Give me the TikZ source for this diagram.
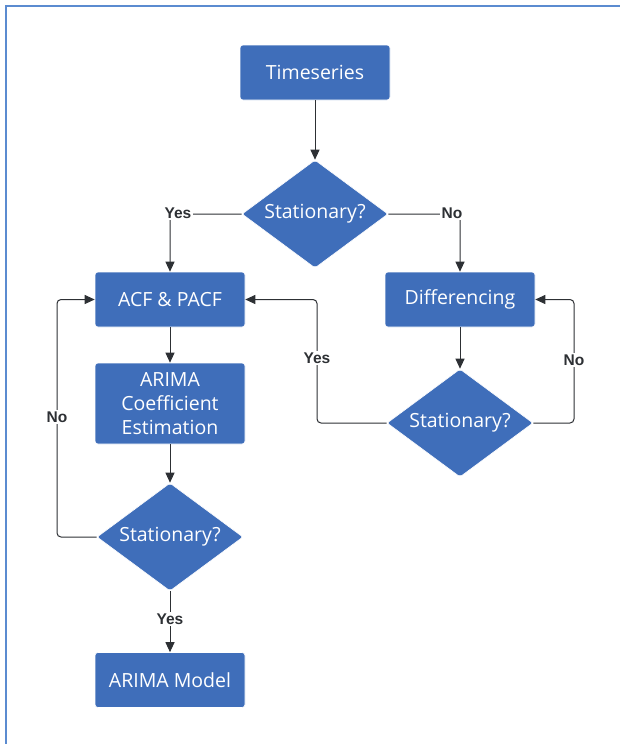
\documentclass[tikz,border=0pt]{standalone}
\usepackage{fontspec}
\setmainfont{Open Sans}
\newfontfamily\labfont{Liberation Sans}
\usetikzlibrary{shapes.geometric,arrows.meta}
\definecolor{boxblue}{RGB}{63,110,186}
\definecolor{framblue}{RGB}{91,139,208}
\definecolor{linegray}{RGB}{45,48,52}
\tikzset{
  procbox/.style={draw=white, line width=0.6pt, fill=boxblue, rounded corners=3pt, minimum width=150pt, minimum height=55pt, text=white, font=\fontsize{19.5}{24}\selectfont, align=center, inner sep=2pt},
  decbox/.style={diamond, draw=white, line width=0.6pt, fill=boxblue, minimum width=146pt, minimum height=108pt, aspect=1.35, text=white, font=\fontsize{19.5}{24}\selectfont, inner sep=0pt, rounded corners=2pt},
  conn/.style={draw=linegray, line width=1pt, rounded corners=4pt, -{Triangle[length=10pt,width=9pt]}},
  lab/.style={fill=white, text=linegray, font=\labfont\bfseries\fontsize{15.5}{18}\selectfont, inner sep=1.5pt}
}
\begin{document}
\begin{tikzpicture}[x=1pt,y=-1pt]
\useasboundingbox (0,0) rectangle (619,744);
\draw[framblue, line width=2pt] (5.5,750) -- (5.5,5.5) -- (625,5.5);
\node[procbox] (ts) at (315,72.5) {Timeseries};
\node[decbox] (d1) at (315,214) {Stationary?};
\node[procbox] (acf) at (170,299.5) {ACF \& PACF};
\node[procbox] (dif) at (460,299.5) {Differencing};
\node[procbox, minimum height=81pt] (est) at (170,403.5) {ARIMA\\Coefficient\\Estimation};
\node[decbox] (d2) at (460,423) {Stationary?};
\node[decbox] (d3) at (170,537) {Stationary?};
\node[procbox] (mod) at (170,680) {ARIMA Model};
\draw[conn] (ts) -- (d1);
\draw[conn] (d1.west) -| (acf.north);
\draw[conn] (d1.east) -| (dif.north);
\node[lab] at (178,213) {Yes};
\node[lab] at (452,213) {No};
\draw[conn] (acf) -- (est);
\draw[conn] (est) -- (d3);
\draw[conn] (dif) -- (d2);
\draw[conn] (d3.south) -- (mod.north);
\node[lab] at (170,619) {Yes};
\coordinate (lx) at (57,0);
\draw[conn] (d3.west) -- (lx |- d3.west) |- (acf.west);
\node[lab] at (57,417) {No};
\coordinate (mx) at (317,0);
\draw[conn] (d2.west) -- (mx |- d2.west) |- (acf.east);
\node[lab] at (317,358) {Yes};
\coordinate (rx) at (574,0);
\draw[conn] (d2.east) -- (rx |- d2.east) |- (dif.east);
\node[lab] at (574,360) {No};
\end{tikzpicture}
\end{document}
